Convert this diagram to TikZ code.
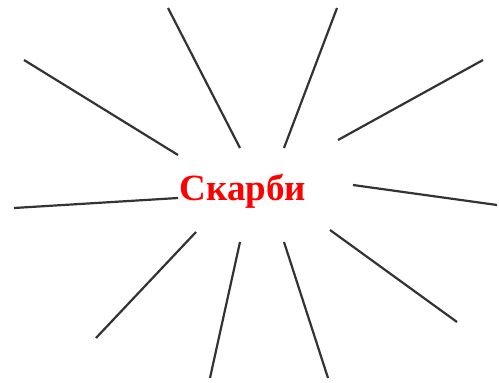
\documentclass[tikz,border=0pt]{standalone}
\usepackage{fontspec}
\setmainfont{Liberation Serif}
\usetikzlibrary{positioning}
\tikzset{ray/.style={draw=black!80, line width=2.2pt}}
\begin{document}
\begin{tikzpicture}[x=1pt, y=-1pt]
  \useasboundingbox (0,0) rectangle (499,383);
  % rays around the word
  \foreach \xa/\ya/\xb/\yb in {24/60/178/155, 168/8/240/148, 337/8/284/148,
      483/60/338/140, 353/185/497/205, 330/230/457/322, 284/242/328/378,
      240/242/210/378, 196/232/96/338, 14/208/178/198} {
    \draw[ray] (\xa,\ya) -- (\xb,\yb);
  }
  \node[font=\bfseries\fontsize{37}{40}\selectfont, text=red, inner sep=0pt,
        anchor=base] (word) at (243,200) {Скарби};
\end{tikzpicture}
\end{document}
